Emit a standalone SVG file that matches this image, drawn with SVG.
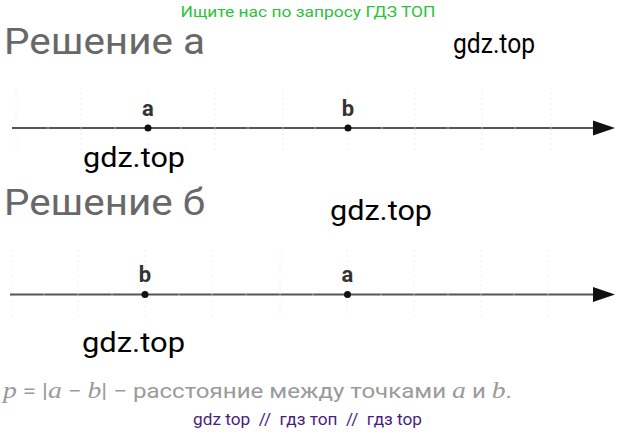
<svg xmlns="http://www.w3.org/2000/svg" width="617" height="437" viewBox="0 0 617 437">
<defs>
<style>
.hdr{font-family:Roboto,"Liberation Sans",sans-serif;font-size:37px;fill:#686868}
.wm{font-family:Roboto,"Liberation Sans",sans-serif;font-size:27px;fill:#000}
.lbl{font-family:Roboto,"Liberation Sans",sans-serif;font-size:22px;font-weight:bold;fill:#333;text-anchor:middle}
.axis{stroke:#555;stroke-width:2;fill:none}
.grid{stroke:#f0f0f0;stroke-width:1;stroke-dasharray:2 3;fill:none}
.tick{stroke:#bbb;stroke-width:1}
.pt{fill:#111}
.arr{fill:#111}
.math{font-family:"Liberation Serif",serif;font-style:italic}
</style>
</defs>
<rect width="617" height="437" fill="#fff"/>
<text x="308" y="17" text-anchor="middle" font-family="Roboto,'Liberation Sans',sans-serif" font-size="15" fill="#2cc23a" textLength="255" lengthAdjust="spacingAndGlyphs">Ищите нас по запросу ГДЗ ТОП</text>

<g id="grid-a">
<path class="grid" d="M16 88V150M81 88V150M148 88V150M215 88V150M283 88V150M348 88V150M415 88V150M482 88V150M551 88V150"/>
</g>
<g id="grid-b">
<path class="grid" d="M12 250V320M78 250V320M145 250V320M212 250V320M280 250V320M347 250V320M414 250V320M481 250V320M548 250V320"/>
</g>

<g id="title-a"><text class="hdr" x="4" y="54" textLength="201" lengthAdjust="spacingAndGlyphs">Решение а</text></g>
<text class="wm" x="453" y="53" textLength="82" lengthAdjust="spacingAndGlyphs" font-size="23">gdz.top</text>

<g id="connectors">
<line class="axis" x1="12" y1="128" x2="596" y2="128"/>
<polygon class="arr" points="593,120.5 615,128 593,135.5"/>
<line class="axis" x1="10" y1="294.5" x2="596" y2="294.5"/>
<polygon class="arr" points="593,287 615,294.5 593,302"/>
</g>
<g id="ticks-a" class="tick">
<path d="M48 126.5v3M81 126.5v3M115 126.5v3M181 126.5v3M215 126.5v3M248 126.5v3M283 126.5v3M315 126.5v3M382 126.5v3M415 126.5v3M448 126.5v3M482 126.5v3M515 126.5v3M551 126.5v3"/>
</g>
<g id="ticks-b" class="tick">
<path d="M44 293v3M78 293v3M112 293v3M179 293v3M212 293v3M246 293v3M280 293v3M313 293v3M381 293v3M414 293v3M448 293v3M481 293v3M514 293v3M548 293v3"/>
</g>

<g id="point-a1"><circle class="pt" cx="148" cy="128" r="3.5"/><text class="lbl" x="148" y="116">a</text></g>
<g id="point-b1"><circle class="pt" cx="348" cy="128" r="3.5"/><text class="lbl" x="348" y="116">b</text></g>

<text class="wm" x="83" y="167" textLength="102" lengthAdjust="spacingAndGlyphs">gdz.top</text>

<g id="title-b"><text class="hdr" x="4" y="215" textLength="201" lengthAdjust="spacingAndGlyphs">Решение б</text></g>
<text class="wm" x="330" y="220" textLength="102" lengthAdjust="spacingAndGlyphs">gdz.top</text>

<g id="point-b2"><circle class="pt" cx="145" cy="294.5" r="3.5"/><text class="lbl" x="145" y="282">b</text></g>
<g id="point-a2"><circle class="pt" cx="347.5" cy="294.5" r="3.5"/><text class="lbl" x="347.5" y="282">a</text></g>

<text class="wm" x="82" y="352" textLength="103" lengthAdjust="spacingAndGlyphs">gdz.top</text>

<text x="3" y="398" font-family="Roboto,'Liberation Sans',sans-serif" font-size="20" fill="#9a9a9a" textLength="509" lengthAdjust="spacingAndGlyphs"><tspan class="math" font-size="23">p</tspan> = |<tspan class="math" font-size="23">a</tspan> − <tspan class="math" font-size="23">b</tspan>| − расстояние между точками <tspan class="math" font-size="23">a</tspan> и <tspan class="math" font-size="23">b</tspan>.</text>

<text x="193" y="425" font-family="Roboto,'Liberation Sans',sans-serif" font-size="16" fill="#4b1d82" textLength="229" lengthAdjust="spacingAndGlyphs" xml:space="preserve">gdz top  //  гдз топ  //  гдз top</text>
</svg>
